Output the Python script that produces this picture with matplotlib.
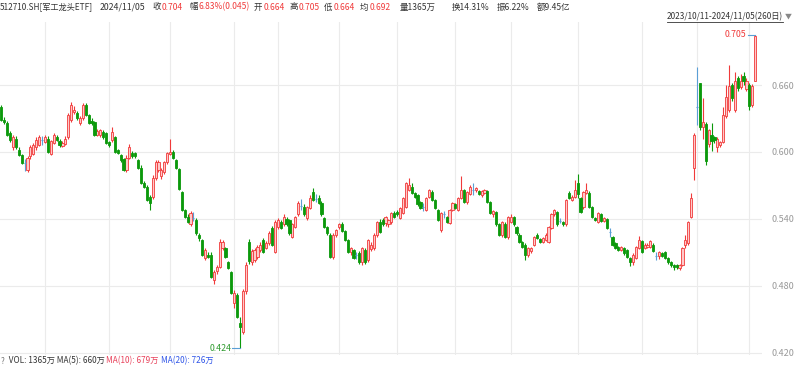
import matplotlib
matplotlib.use('Agg')
import matplotlib.pyplot as plt
from matplotlib.lines import Line2D
import numpy as np

plt.rcParams['font.family'] = ['Noto Sans CJK SC', 'DejaVu Sans']

# daily OHLC, 2023/10/11 - 2024/11/05
opens = [
    .640, .629, .626, .617, .604, .612, .602, .597, .590, .584,
    .596, .598, .604, .606, .611, .609, .612, .598, .608, .613,
    .610, .605, .607, .613, .629, .636, .635, .626, .630, .642,
    .633, .628, .627, .615, .615, .618, .617, .609, .611, .613,
    .602, .597, .594, .584, .595, .599, .599, .593, .586, .572,
    .569, .560, .560, .577, .584, .578, .582, .591, .598, .600,
    .593, .585, .564, .548, .542, .535, .541, .539, .526, .521,
    .505, .508, .508, .485, .493, .497, .514, .514, .501, .492,
    .465, .472, .447, .439, .475, .519, .501, .503, .506, .512,
    .521, .514, .518, .532, .510, .533, .537, .535, .540, .539,
    .524, .533, .544, .552, .551, .541, .550, .564, .558, .559,
    .554, .541, .533, .526, .506, .526, .533, .535, .529, .521,
    .510, .512, .508, .509, .501, .512, .503, .513, .514, .526,
    .537, .539, .536, .535, .537, .545, .546, .541, .545, .551,
    .566, .569, .563, .561, .555, .551, .548, .560, .564,
    .557, .548, .530, .544, .542, .536, .548, .553, .548, .559,
    .566, .555, .562, .566, .566, .565, .561, .563, .565, .555,
    .544, .546, .535, .526, .535, .524, .537, .542, .533, .526,
    .519, .517, .508, .511, .517, .526, .522, .519, .521, .519,
    .532, .544, .546, .538, .537, .535, .563, .557, .560, .572,
    .559, .551, .563, .563, .551, .541, .537, .544, .538, .540,
    .528, .524, .518, .515, .512, .514, .512, .505, .501, .505,
    .514, .520, .514, .515, .515, .517, .507, .507, .509, .510,
    .505, .501, .499, .499, .496, .499, .517, .518, .542, .586,
    .640, .662, .622, .625, .607, .615, .613, .604, .606, .609,
    .632, .638, .660, .638, .666, .658, .668, .656, .660, .642, .664,
]
highs = [
    .642, .631, .628, .619, .615, .614, .604, .598, .594, .596,
    .606, .608, .613, .615, .614, .615, .614, .611, .617, .615,
    .612, .610, .614, .635, .645, .641, .637, .632, .644, .644,
    .634, .630, .628, .621, .621, .620, .618, .610, .622, .614,
    .603, .598, .595, .597, .607, .601, .600, .594, .588, .574,
    .570, .561, .579, .593, .593, .586, .592, .600, .612, .602,
    .594, .586, .565, .549, .544, .547, .546, .541, .527, .522,
    .514, .510, .510, .494, .499, .522, .521, .515, .502, .493,
    .476, .474, .452, .477, .501, .522, .513, .514, .517, .519,
    .523, .520, .529, .534, .539, .541, .539, .544, .542, .540,
    .536, .543, .556, .558, .553, .552, .561, .568, .562, .561,
    .556, .542, .534, .527, .527, .531, .536, .537, .530, .522,
    .515, .513, .510, .511, .515, .514, .522, .519, .527, .538,
    .540, .541, .543, .540, .546, .547, .548, .551, .560, .573,
    .577, .572, .564, .562, .556, .554, .560, .567, .566,
    .558, .549, .546, .547, .543, .549, .555, .554, .560, .578,
    .567, .565, .570, .572, .569, .566, .566, .567, .566, .556,
    .548, .547, .536, .538, .537, .543, .544, .543, .534, .527,
    .520, .518, .515, .515, .525, .527, .523, .524, .527, .534,
    .545, .549, .547, .541, .538, .558, .565, .561, .575, .580,
    .560, .565, .572, .565, .552, .542, .546, .545, .542, .541,
    .532, .525, .519, .516, .516, .515, .513, .506, .509, .516,
    .525, .521, .518, .518, .521, .518, .510, .511, .510, .511,
    .506, .502, .500, .500, .500, .515, .526, .538, .563, .617,
    .676, .662, .648, .627, .621, .626, .614, .613, .610, .640,
    .660, .678, .662, .672, .668, .670, .672, .666, .662, .661, .705,
]
lows = [
    .628, .625, .614, .609, .602, .603, .596, .589, .583, .582,
    .594, .597, .602, .605, .606, .608, .599, .597, .607, .610,
    .604, .604, .606, .612, .627, .634, .629, .624, .629, .632,
    .625, .624, .614, .614, .613, .612, .607, .604, .609, .599,
    .598, .591, .583, .582, .594, .595, .595, .585, .571, .568,
    .556, .548, .558, .575, .582, .576, .580, .589, .597, .594,
    .585, .566, .547, .541, .536, .534, .538, .526, .520, .507,
    .503, .505, .487, .482, .491, .496, .512, .505, .495, .473,
    .460, .451, .424, .437, .473, .500, .499, .501, .504, .510,
    .509, .513, .517, .516, .509, .531, .531, .534, .534, .526,
    .523, .532, .543, .548, .543, .539, .549, .556, .555, .553,
    .543, .532, .526, .505, .504, .524, .531, .528, .520, .509,
    .508, .504, .504, .500, .499, .500, .501, .511, .512, .524,
    .527, .534, .534, .533, .535, .541, .543, .540, .544, .550,
    .565, .562, .559, .552, .549, .547, .547, .559, .556,
    .549, .538, .528, .541, .536, .535, .547, .549, .547, .558,
    .554, .553, .561, .561, .564, .561, .560, .562, .554, .544,
    .542, .534, .525, .524, .523, .522, .536, .534, .526, .518,
    .514, .503, .506, .509, .516, .522, .518, .518, .520, .518,
    .531, .543, .534, .536, .534, .534, .558, .556, .559, .559,
    .545, .549, .562, .550, .541, .538, .536, .537, .537, .531,
    .524, .516, .513, .511, .511, .508, .505, .498, .499, .504,
    .513, .509, .513, .514, .514, .510, .503, .504, .506, .504,
    .500, .497, .494, .495, .494, .498, .514, .517, .541, .575,
    .624, .620, .612, .588, .604, .601, .608, .600, .604, .608,
    .630, .636, .646, .636, .655, .656, .660, .655, .638, .640, .664,
]
closes = [
    .629, .627, .615, .611, .613, .604, .597, .590, .590, .595,
    .604, .606, .611, .613, .611, .613, .600, .610, .615, .611,
    .606, .608, .612, .633, .642, .638, .630, .630, .642, .633,
    .626, .626, .615, .619, .620, .613, .608, .606, .618, .600,
    .599, .593, .584, .595, .604, .596, .596, .586, .572, .569,
    .557, .554, .577, .591, .591, .584, .591, .599, .600, .595,
    .586, .567, .548, .542, .537, .545, .541, .527, .523, .508,
    .512, .506, .488, .492, .497, .519, .519, .506, .496, .474,
    .474, .452, .443, .475, .499, .502, .511, .512, .515, .517,
    .510, .518, .527, .517, .537, .539, .532, .542, .535, .527,
    .535, .542, .554, .552, .544, .551, .559, .557, .558, .554,
    .544, .533, .527, .506, .526, .530, .535, .529, .521, .510,
    .514, .505, .508, .501, .514, .501, .521, .517, .526, .537,
    .528, .535, .542, .539, .545, .542, .544, .550, .559, .572,
    .570, .563, .560, .553, .550, .551, .559, .566, .557,
    .550, .539, .545, .544, .537, .548, .554, .550, .559, .566,
    .555, .564, .569, .566, .568, .562, .565, .566, .555, .545,
    .547, .535, .526, .537, .524, .542, .542, .535, .527, .519,
    .515, .508, .514, .514, .524, .523, .519, .523, .526, .533,
    .544, .548, .535, .538, .535, .557, .559, .560, .566, .562,
    .546, .564, .566, .551, .542, .539, .545, .538, .541, .532,
    .528, .517, .514, .512, .515, .509, .506, .501, .508, .515,
    .521, .510, .517, .517, .520, .511, .507, .510, .507, .505,
    .501, .499, .497, .497, .499, .514, .521, .537, .559, .615,
    .640, .622, .627, .592, .620, .610, .611, .612, .609, .633,
    .649, .659, .648, .664, .657, .664, .664, .664, .641, .659, .704,
]

# first trading day of each month (index into the series)
month_starts = [15, 37, 58, 80, 95, 116, 136, 156, 175, 198, 220, 239, 257]
price_ticks = [0.420, 0.480, 0.540, 0.600, 0.660]

RED = '#f03a3a'
PINK = '#ffc9c9'
GREEN = '#0b990b'
BLUE = '#5a9fd6'
GRID = '#ebebeb'

o = np.array(opens)
h = np.array(highs)
l = np.array(lows)
c = np.array(closes)
x = np.arange(len(c))
up = c > o
dn = c < o
flat = c == o

fig = plt.figure(figsize=(8, 3.66), dpi=100)
ax = fig.add_axes([0, 0.030, 0.952, 0.910])

for m in month_starts:
    ax.axvline(m, color=GRID, lw=0.8, zorder=0)
for p in price_ticks:
    ax.axhline(p, color=GRID, lw=0.8, zorder=0)

w = 0.74
ax.vlines(x[up], l[up], h[up], color=RED, lw=0.8, zorder=2)
ax.bar(x[up], c[up] - o[up], bottom=o[up], width=w, facecolor=PINK,
       edgecolor=RED, lw=0.6, zorder=3)
ax.vlines(x[dn], l[dn], h[dn], color=GREEN, lw=0.8, zorder=2)
ax.bar(x[dn], c[dn] - o[dn], bottom=o[dn], width=w, facecolor=GREEN,
       edgecolor=GREEN, lw=0.6, zorder=3)
ax.vlines(x[flat], l[flat], h[flat], color=BLUE, lw=0.8, zorder=2)
ax.hlines(o[flat], x[flat] - w / 2, x[flat] + w / 2, color=BLUE, lw=0.8, zorder=3)

# max / min markers, label on the left joined by a short line
imax = int(np.argmax(h))
imin = int(np.argmin(l))
ax.plot([imax - 2.6, imax], [h[imax], h[imax]], color=BLUE, lw=0.8)
ax.text(imax - 3.0, h[imax], '%.3f' % h[imax], color=RED, fontsize=6.3,
        ha='right', va='center')
ax.plot([imin - 2.6, imin], [l[imin], l[imin]], color=BLUE, lw=0.8)
ax.text(imin - 3.0, l[imin], '%.3f' % l[imin], color='#2e9a2e', fontsize=6.3,
        ha='right', va='center')

ax.set_xlim(-0.45, 261.2)
ax.set_ylim(0.418, 0.7165)
ax.set_yticks(price_ticks)
ax.set_yticklabels(['%.3f' % p for p in price_ticks])
ax.yaxis.tick_right()
ax.tick_params(axis='y', length=0, pad=7, labelsize=6.5, labelcolor='#999999')
ax.set_xticks([])
for s in ax.spines.values():
    s.set_visible(False)

H = 366.0
renderer = fig.canvas.get_renderer()


def ftext(px, py, s, color='#333333', size=5.9):
    t = fig.text(px / 800.0, 1 - py / H, s, color=color, fontsize=size,
                 ha='left', va='center')
    return t.get_window_extent(renderer).x1


def seq(px, py, parts, size=5.9, gap=0.0):
    for s, color in parts:
        px = ftext(px, py, s, color, size) + gap
    return px


# header
ftext(0, 7, '512710.SH[军工龙头ETF]')
ftext(100, 7, '2024/11/05', size=6.3)
header = [('收', '0.704', 152), ('幅', '6.83%(0.045)', 189), ('开', '0.664', 254),
          ('高', '0.705', 289), ('低', '0.664', 324), ('均', '0.692', 360)]
for lab, val, px in header:
    seq(px, 7, [(lab, '#333333'), (val, RED)], size=6.1, gap=1)
ftext(400, 7, '量1365万', size=6.1)
ftext(452, 7, '换14.31%', size=6.1)
ftext(497, 7, '振6.22%', size=6.1)
ftext(537, 7, '额9.45亿', size=6.1)

x_end = ftext(667, 17, '2023/10/11-2024/11/05(260日)', size=5.9)
fig.add_artist(Line2D([667 / 800.0, x_end / 800.0], [1 - 21.5 / H, 1 - 21.5 / H],
                      color='#333333', lw=0.6))
ftext(x_end + 2, 17, '▼', color='#888888', size=5.0)

# volume line
seq(1, 361, [('?', '#777777'), ('  VOL: 1365万 MA(5): 660万 ', '#333333'),
             ('MA(10): 679万 ', '#e8415a'), ('MA(20): 726万', '#2f55e8')],
    size=5.9)

fig.savefig('out.png', dpi=100)
